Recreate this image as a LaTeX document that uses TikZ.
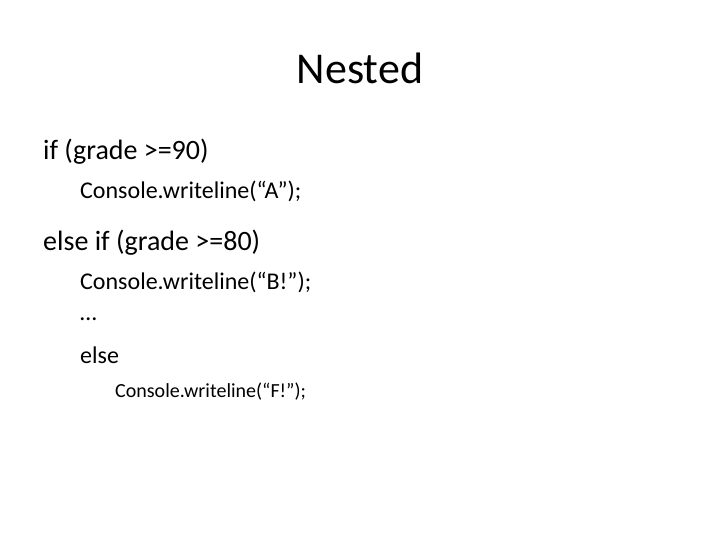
\documentclass[tikz,border=0pt]{standalone}
\usepackage{fontspec}
\setmainfont{Carlito}
\tikzset{
  title/.style={font=\fontsize{44}{50}\selectfont, inner sep=0pt},
  lvlone/.style={anchor=west, font=\fontsize{28}{32}\selectfont, inner sep=0pt},
  lvltwo/.style={anchor=west, font=\fontsize{24}{28}\selectfont, inner sep=0pt},
  lvlthree/.style={anchor=west, font=\fontsize{20}{24}\selectfont, inner sep=0pt}
}
\begin{document}
\begin{tikzpicture}[x=1pt,y=1pt]
  \useasboundingbox (0,0) rectangle (720,-540);
  \node[title] (head) at (360,-68) {Nested};
  \node[lvlone] (ifa) at (43,-152) {if (grade >=90)};
  \node[lvltwo] (outa) at (80,-191) {Console.writeline(“A”);};
  \node[lvlone] (ifb) at (43,-243) {else if (grade >=80)};
  \node[lvltwo] (outb) at (80,-282) {Console.writeline(“B!”);};
  \node[lvltwo] (dots) at (80,-319) {…};
  \node[lvltwo] (els) at (80,-355) {else};
  \node[lvlthree] (outf) at (115,-392) {Console.writeline(“F!”);};
\end{tikzpicture}
\end{document}
